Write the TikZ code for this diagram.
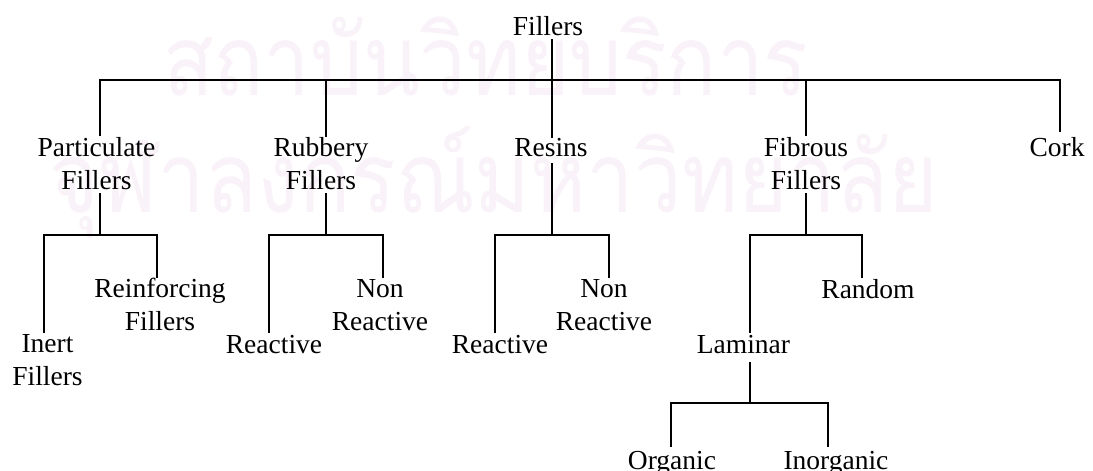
\documentclass[tikz,border=0pt]{standalone}
\usepackage{fontspec}
\usepackage{graphicx}
\setmainfont{Liberation Serif}
\newfontfamily\thaifont[Script=Thai]{Loma}
\usetikzlibrary{calc}
\definecolor{wm}{RGB}{249,242,248}
\newsavebox\wmboxA
\newsavebox\wmboxB
\begin{document}
\sbox\wmboxA{\color{wm}\thaifont\fontsize{100}{100}\selectfont สถาบันวิทยบริการ}%
\sbox\wmboxB{\color{wm}\thaifont\fontsize{100}{100}\selectfont จุฬาลงกรณ์มหาวิทยาลัย}%
\begin{tikzpicture}[x=1pt,y=-1pt,
  lbl/.style={inner sep=0pt, align=center, anchor=base, font=\fontsize{27.5}{32.5}\selectfont},
  conn/.style={draw=black, line width=1.9pt},
  wmark/.style={inner sep=0pt, text=wm}]
\useasboundingbox (0,0) rectangle (1093,471);
\clip (0,0) rectangle (1093,471);
\fill[white] (0,0) rectangle (1093,471);
% watermark
\pgfmathsetmacro\wmsx{645/\the\wd\wmboxA}
\pgfmathsetmacro\wmsy{1.18*\wmsx}
\pgfmathsetmacro\wmsxB{888/\the\wd\wmboxB}
\node[wmark, anchor=base west] (wmA) at (163,95) {\scalebox{\wmsx}[\wmsy]{\usebox\wmboxA}};
\node[wmark, anchor=base east] (wmB) at (938,212) {\scalebox{\wmsxB}[\wmsy]{\usebox\wmboxB}};
% labels (anchor = baseline of last line)
\node[lbl] (root) at (548,35) {Fillers};
\node[lbl] (pf) at (96.5,189) {Particulate\\Fillers};
\node[lbl] (rf) at (321,189) {Rubbery\\Fillers};
\node[lbl] (res) at (551,156) {Resins};
\node[lbl] (fib) at (806,189) {Fibrous\\Fillers};
\node[lbl] (cork) at (1057,156) {Cork};
\node[lbl] (inert) at (47.5,385) {Inert\\Fillers};
\node[lbl] (reinf) at (160,330) {Reinforcing\\Fillers};
\node[lbl] (rfr) at (274,353) {Reactive};
\node[lbl] (rfn) at (380,330) {Non\\Reactive};
\node[lbl] (resr) at (500,353) {Reactive};
\node[lbl] (resn) at (604,330) {Non\\Reactive};
\node[lbl] (lam) at (743.5,353) {Laminar};
\node[lbl] (rand) at (868,298) {Random};
\node[lbl] (org) at (672,469) {Organic};
\node[lbl] (inorg) at (836,469) {Inorganic};
% junctions
\coordinate (j0) at (552,80);
\coordinate (b1) at (100,80);
\coordinate (b2) at (326,80);
\coordinate (b4) at (806,80);
\coordinate (b5) at (1060,80);
\coordinate (j1) at (100,235);
\coordinate (l1) at (44,235);
\coordinate (r1) at (157,235);
\coordinate (j2) at (326,235);
\coordinate (l2) at (269,235);
\coordinate (r2) at (383,235);
\coordinate (j3) at (552,235);
\coordinate (l3) at (495,235);
\coordinate (r3) at (609,235);
\coordinate (j4) at (806,235);
\coordinate (l4) at (750,235);
\coordinate (r4) at (862,235);
\coordinate (j5) at (750,403);
\coordinate (l5) at (671,403);
\coordinate (r5) at (828,403);
% level 1
\draw[conn] ($(root.base -| j0)+(0,4)$) -- (j0);
\draw[conn] ($(pf.base -| b1)+(0,-53)$) |- (j0) -| ($(cork.base -| b5)+(0,-24)$);
\draw[conn] (b2) -- ($(rf.base -| b2)+(0,-52)$);
\draw[conn] (j0) -- ($(res.base -| j0)+(0,-18)$);
\draw[conn] (b4) -- ($(fib.base -| b4)+(0,-53)$);
% level 2
\draw[conn] ($(pf.base -| j1)+(0,4)$) -- (j1);
\draw[conn] ($(inert.base -| l1)+(0,-52)$) |- (j1) -| ($(reinf.base -| r1)+(0,-52)$);
\draw[conn] ($(rf.base -| j2)+(0,4)$) -- (j2);
\draw[conn] ($(rfr.base -| l2)+(0,-20)$) |- (j2) -| ($(rfn.base -| r2)+(0,-52)$);
\draw[conn] ($(res.base -| j3)+(0,7)$) -- (j3);
\draw[conn] ($(resr.base -| l3)+(0,-20)$) |- (j3) -| ($(resn.base -| r3)+(0,-52)$);
\draw[conn] ($(fib.base -| j4)+(0,4)$) -- (j4);
\draw[conn] ($(lam.base -| l4)+(0,-20)$) |- (j4) -| ($(rand.base -| r4)+(0,-20)$);
% level 3
\draw[conn] ($(lam.base -| j5)+(0,9)$) -- (j5);
\draw[conn] ($(org.base -| l5)+(0,-22)$) |- (j5) -| ($(inorg.base -| r5)+(0,-22)$);
\end{tikzpicture}
\end{document}
